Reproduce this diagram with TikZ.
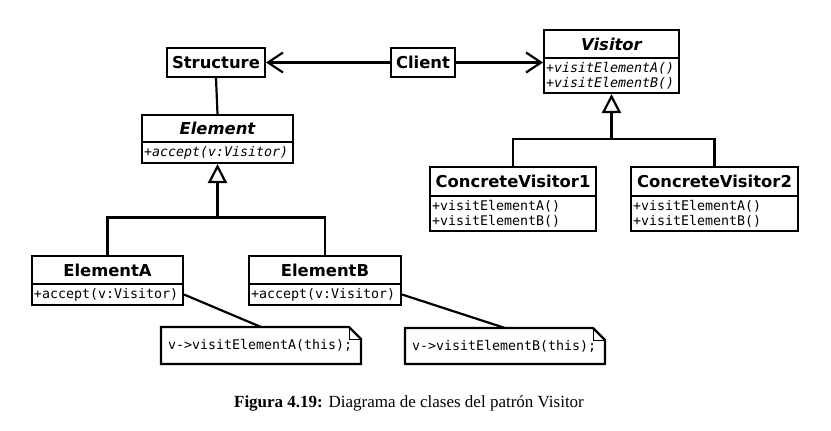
\documentclass[tikz,border=0pt]{standalone}
\usepackage{fontspec}
\setmainfont{Liberation Serif}
\newfontfamily\hdfont{DejaVu Sans}
\newfontfamily\mnfont{DejaVu Sans Mono}
\usetikzlibrary{arrows.meta,calc}
\begin{document}
\begin{tikzpicture}[x=1pt,y=-1pt, line width=2pt,
  classhead/.style={draw, line width=2pt, inner sep=0pt, font=\hdfont\bfseries\fontsize{16.4}{19}\selectfont},
  abshead/.style={classhead, font=\hdfont\bfseries\itshape\fontsize{16.4}{19}\selectfont},
  classbody/.style={draw, line width=2pt, inner xsep=2pt, inner ysep=0pt, align=left, font=\mnfont\fontsize{13.3}{15}\selectfont},
  absbody/.style={classbody, font=\mnfont\itshape\fontsize{13.3}{15}\selectfont},
  notebox/.style={inner xsep=6pt, inner ysep=0pt, align=left, font=\mnfont\fontsize{13.3}{15}\selectfont},
  conn/.style={line width=2.2pt},
  navarrow/.style={conn, -{Straight Barb[length=15pt,width=20pt]}},
  inherit/.style={conn, -{Triangle[open,length=19pt,width=19pt]}},
  fold/.style={line width=1pt}
]
\useasboundingbox (0,0) rectangle (831,431);

% Structure and Client
\node[classhead, minimum width=98, minimum height=29] (structure) at (216,62.5) {Structure};
\node[classhead, minimum width=64, minimum height=29] (client) at (423,62.5) {Client};

% Visitor
\node[abshead, minimum width=135, minimum height=28] (visitor) at (611.5,44) {Visitor};
\node[absbody, text width=131, minimum height=35] (visitorm) at (611.5,75.5) {+visitElementA()\\+visitElementB()};

% Concrete visitors
\node[classhead, minimum width=166, minimum height=29] (cv1) at (513,181.5) {ConcreteVisitor1};
\node[classbody, text width=162, minimum height=35] (cv1m) at (513,213.5) {+visitElementA()\\+visitElementB()};
\node[classhead, minimum width=167, minimum height=29] (cv2) at (714.5,181.5) {ConcreteVisitor2};
\node[classbody, text width=163, minimum height=35] (cv2m) at (714.5,213.5) {+visitElementA()\\+visitElementB()};

% Element
\node[abshead, minimum width=151, minimum height=27] (element) at (217.5,128.5) {Element};
\node[absbody, text width=147, minimum height=21] (elementm) at (217.5,152.5) {+accept(v:Visitor)};

% ElementA / ElementB
\node[classhead, minimum width=151, minimum height=28] (ea) at (107.5,270) {ElementA};
\node[classbody, text width=147, minimum height=21] (eam) at (107.5,294.5) {+accept(v:Visitor)};
\node[classhead, minimum width=152, minimum height=28] (eb) at (325,270) {ElementB};
\node[classbody, text width=148, minimum height=21] (ebm) at (325,294.5) {+accept(v:Visitor)};

% Notes
\node[notebox, text width=186, minimum height=35] (notea) at (261,345.5) {\raisebox{-3pt}{v->visitElementA(this);}};
\node[notebox, text width=186, minimum height=34] (noteb) at (505,346) {\raisebox{-3pt}{v->visitElementB(this);}};
\foreach \n in {notea,noteb}{
  \draw[conn] (\n.north west) -- ($(\n.north east)+(-12,0)$) -- ($(\n.north east)+(0,12)$) -- (\n.south east) -- (\n.south west) -- cycle;
  \draw[fold] ($(\n.north east)+(-12,0)$) -- ($(\n.north east)+(-12,12)$) -- ($(\n.north east)+(0,12)$);
}

% Associations
\draw[navarrow] (client.west) -- (structure.east);
\draw[navarrow] (client.east) -- (client.east -| visitorm.west);
\draw[conn] (structure.south) -- (element.north);

% Inheritance: elements
\coordinate (ej) at (217.5,217.5);
\draw[conn] (ea.north) |- (ej) -| (eb.north);
\draw[inherit] (ej) -- (elementm.south);

% Inheritance: visitors
\coordinate (vj) at (611.5,139);
\draw[conn] (cv1.north) |- (vj) -| (cv2.north);
\draw[inherit] (vj) -- (visitorm.south);

% Note links
\draw[conn] (eam.east) -- (notea.north);
\draw[conn] (ebm.east) -- (noteb.north);

% Caption
\node[font=\fontsize{17}{20}\selectfont] (caption) at (409,403) {\textbf{Figura 4.19:} Diagrama de clases del patrón Visitor};
\end{tikzpicture}
\end{document}
